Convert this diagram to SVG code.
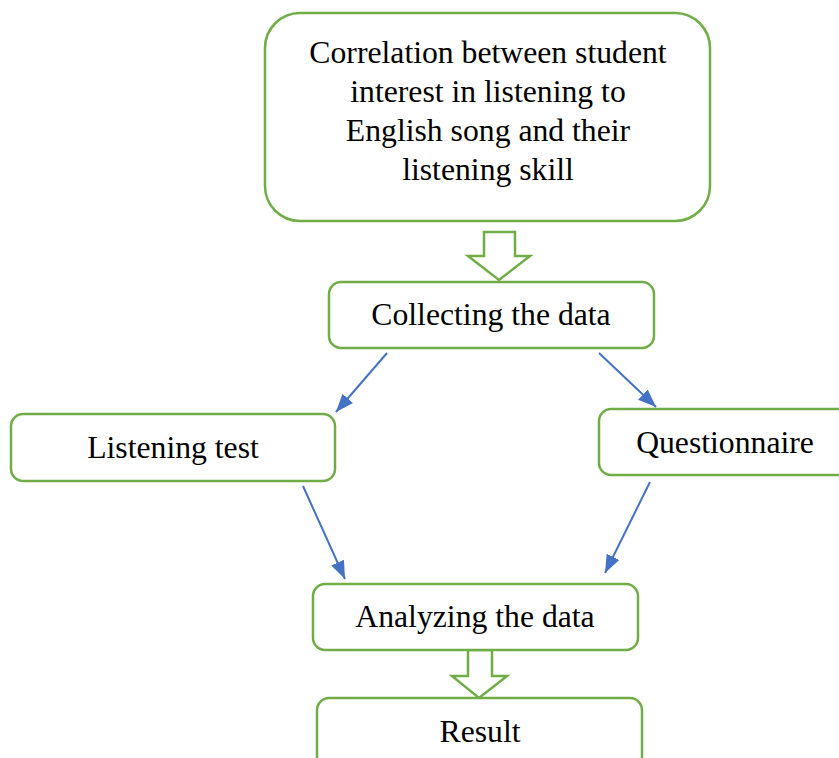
<svg xmlns="http://www.w3.org/2000/svg" width="839" height="758" viewBox="0 0 839 758">
<defs>
<style>
.box{fill:#ffffff;stroke:#70AD47;stroke-width:2.5}
.hollow{fill:#ffffff;stroke:#70AD47;stroke-width:2.5;stroke-linejoin:miter}
.t{font-family:"Liberation Serif","Times New Roman",serif;font-size:31.7px;fill:#000000;text-anchor:middle}
.c{stroke:#4472C4;stroke-width:2;fill:none}
</style>
<marker id="ah" markerUnits="userSpaceOnUse" markerWidth="20" markerHeight="16" refX="18" refY="7" orient="auto">
<path d="M0,0 L18,7 L0,14 Z" fill="#4472C4"/>
</marker>
</defs>
<rect width="839" height="758" fill="#ffffff"/>
<g id="connectors">
<path class="hollow" d="M484,232 L515,232 L515,256 L530,256 L499,280 L468,256 L484,256 Z"/>
<path class="hollow" d="M468,650 L492,650 L492,676 L507,676 L479,698 L452,676 L468,676 Z"/>
<line class="c" x1="387" y1="353" x2="336" y2="412" marker-end="url(#ah)"/>
<line class="c" x1="599" y1="353" x2="656" y2="407" marker-end="url(#ah)"/>
<line class="c" x1="303" y1="486" x2="345" y2="579" marker-end="url(#ah)"/>
<line class="c" x1="650" y1="482" x2="605" y2="573" marker-end="url(#ah)"/>
</g>
<g id="node-correlation">
<rect class="box" x="265" y="13" width="445" height="208" rx="35" ry="35"/>
<text class="t" x="488" y="63">Correlation between student</text>
<text class="t" x="488" y="102">interest in listening to</text>
<text class="t" x="488" y="141">English song and their</text>
<text class="t" x="488" y="180">listening skill</text>
</g>
<g id="node-collecting">
<rect class="box" x="329" y="282" width="325" height="66" rx="12" ry="12"/>
<text class="t" x="491" y="325">Collecting the data</text>
</g>
<g id="node-listening">
<rect class="box" x="11" y="414" width="324" height="67" rx="12" ry="12"/>
<text class="t" x="173" y="458">Listening test</text>
</g>
<g id="node-questionnaire">
<rect class="box" x="599" y="409" width="325" height="66" rx="12" ry="12"/>
<text class="t" x="725" y="453">Questionnaire</text>
</g>
<g id="node-analyzing">
<rect class="box" x="313" y="584" width="325" height="66" rx="12" ry="12"/>
<text class="t" x="475" y="627">Analyzing the data</text>
</g>
<g id="node-result">
<rect class="box" x="317" y="698" width="325" height="80" rx="12" ry="12"/>
<text class="t" x="480" y="742">Result</text>
</g>
</svg>
